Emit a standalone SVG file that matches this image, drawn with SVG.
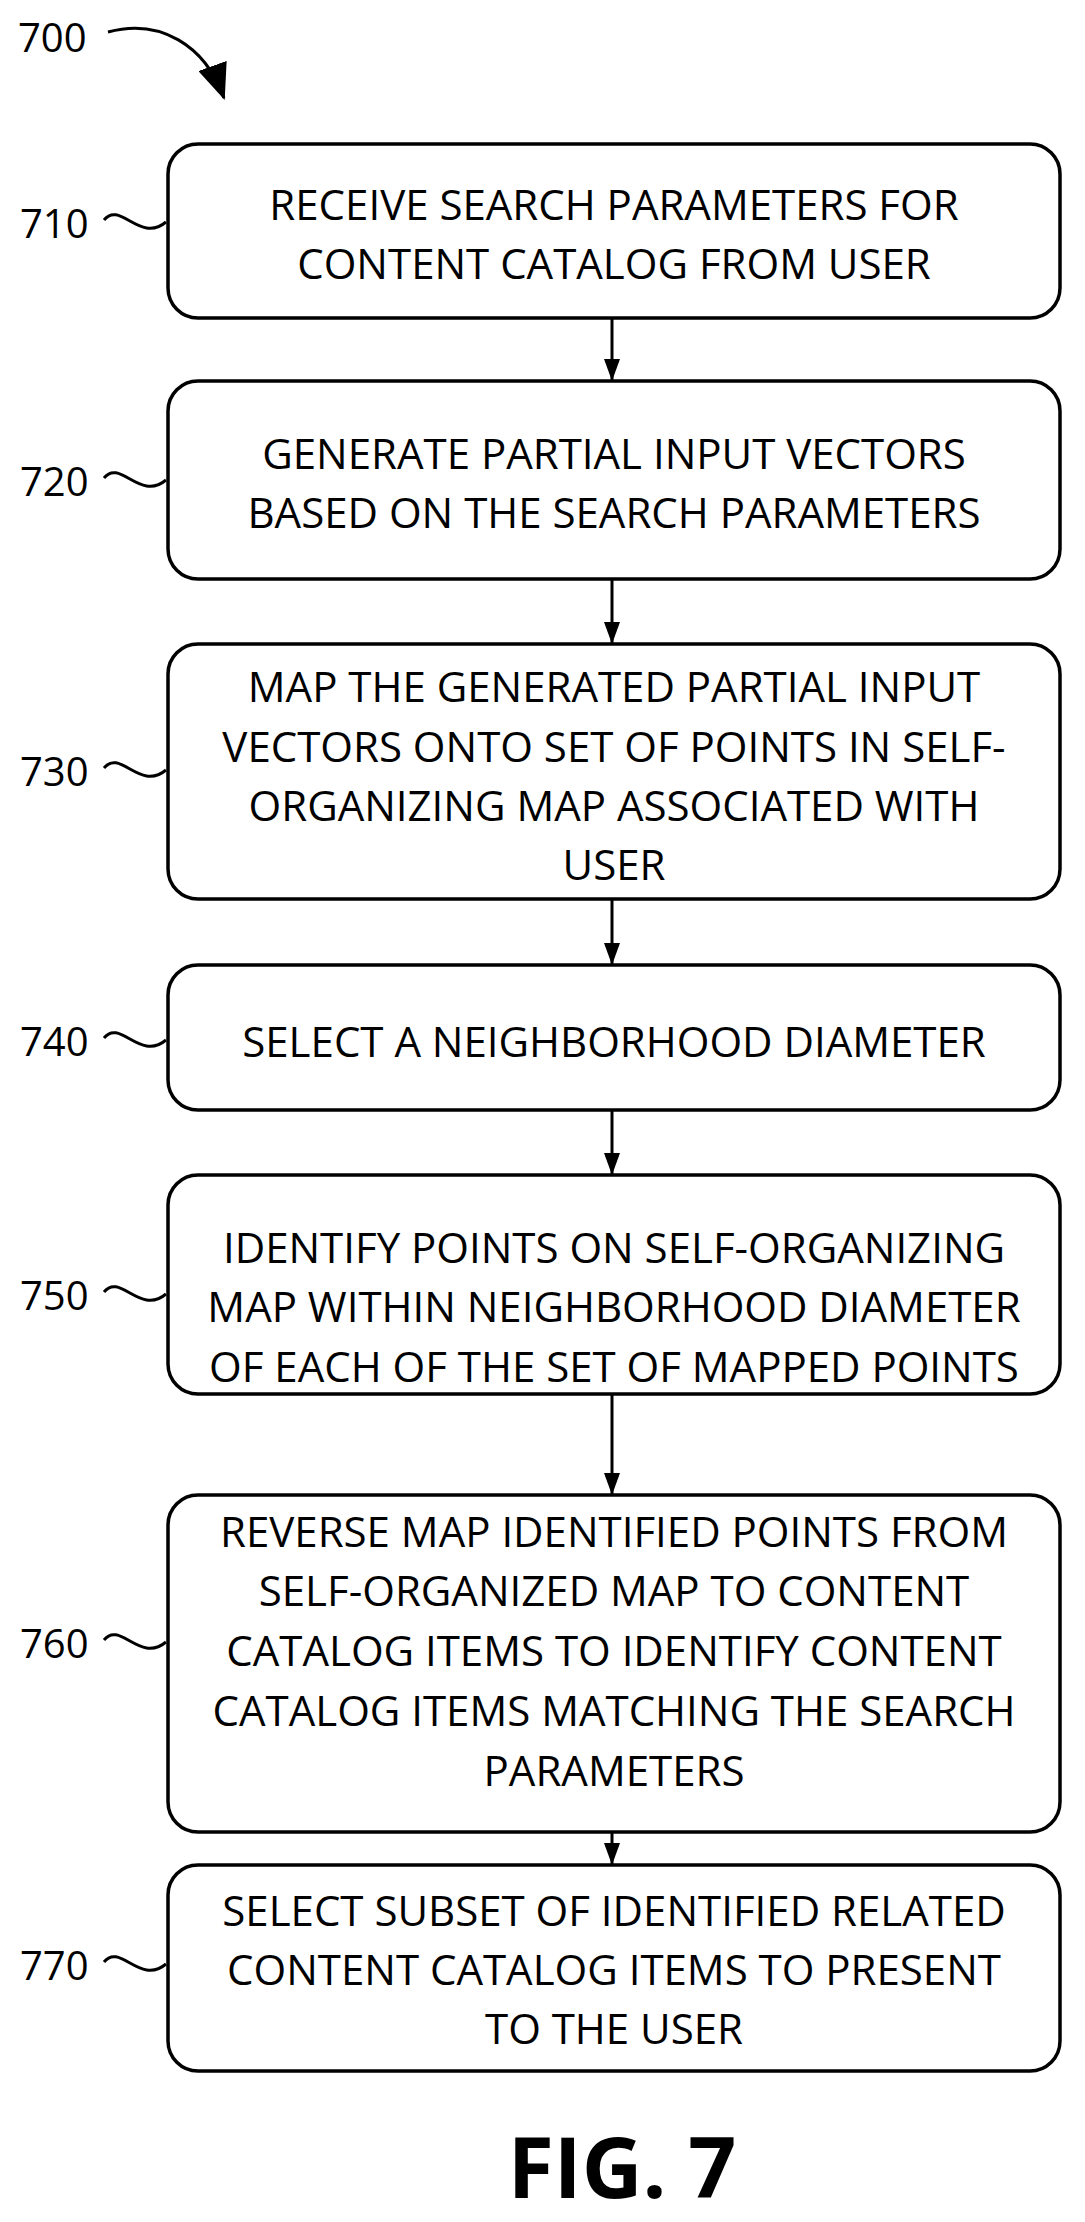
<svg xmlns="http://www.w3.org/2000/svg" width="1085" height="2222" viewBox="0 0 1085 2222">
<style>
.b{fill:#fff;stroke:#000;stroke-width:3.5}
.t{font-family:"Open Sans","Liberation Sans",sans-serif;font-size:42px;text-anchor:middle;dominant-baseline:central;fill:#000}
.l{font-family:"Open Sans","Liberation Sans",sans-serif;font-size:40px;dominant-baseline:central;fill:#000}
.c{fill:none;stroke:#000;stroke-width:3}
</style>
<defs><marker id="a" markerWidth="22" markerHeight="16" refX="21" refY="8" orient="auto" markerUnits="userSpaceOnUse" viewBox="0 0 22 16"><path d="M0,0 L22,8 L0,16 Z" fill="#000"/></marker>
<marker id="a2" markerWidth="36" markerHeight="30" refX="34" refY="15" orient="auto" markerUnits="userSpaceOnUse" viewBox="0 0 36 30"><path d="M0,0 L36,15 L0,30 Z" fill="#000"/></marker></defs>
<g id="label700"><text class="l" x="18" y="36">700</text><path class="c" d="M108,32 C160,18 205,45 224,98" marker-end="url(#a2)"/></g>
<g id="n710"><rect class="b" x="168" y="144" width="892" height="174" rx="30"/><text class="t" x="614" y="203">RECEIVE SEARCH PARAMETERS FOR</text><text class="t" x="614" y="262">CONTENT CATALOG FROM USER</text><text class="l" x="20" y="222">710</text><path class="c" d="M104,220 C120,200 140,244 166,222"/></g>
<g id="n720"><rect class="b" x="168" y="381" width="892" height="198" rx="30"/><text class="t" x="614" y="452">GENERATE PARTIAL INPUT VECTORS</text><text class="t" x="614" y="511">BASED ON THE SEARCH PARAMETERS</text><text class="l" x="20" y="480">720</text><path class="c" d="M104,478 C120,458 140,502 166,480"/></g>
<g id="n730"><rect class="b" x="168" y="644" width="892" height="255" rx="30"/><text class="t" x="614" y="685">MAP THE GENERATED PARTIAL INPUT</text><text class="t" x="614" y="745">VECTORS ONTO SET OF POINTS IN SELF-</text><text class="t" x="614" y="804">ORGANIZING MAP ASSOCIATED WITH</text><text class="t" x="614" y="863">USER</text><text class="l" x="20" y="770">730</text><path class="c" d="M104,768 C120,748 140,792 166,770"/></g>
<g id="n740"><rect class="b" x="168" y="965" width="892" height="145" rx="30"/><text class="t" x="614" y="1040">SELECT A NEIGHBORHOOD DIAMETER</text><text class="l" x="20" y="1040">740</text><path class="c" d="M104,1038 C120,1018 140,1062 166,1040"/></g>
<g id="n750"><rect class="b" x="168" y="1175" width="892" height="219" rx="30"/><text class="t" x="614" y="1246">IDENTIFY POINTS ON SELF-ORGANIZING</text><text class="t" x="614" y="1305">MAP WITHIN NEIGHBORHOOD DIAMETER</text><text class="t" x="614" y="1365">OF EACH OF THE SET OF MAPPED POINTS</text><text class="l" x="20" y="1294">750</text><path class="c" d="M104,1292 C120,1272 140,1316 166,1294"/></g>
<g id="n760"><rect class="b" x="168" y="1495" width="892" height="337" rx="30"/><text class="t" x="614" y="1530">REVERSE MAP IDENTIFIED POINTS FROM</text><text class="t" x="614" y="1589">SELF-ORGANIZED MAP TO CONTENT</text><text class="t" x="614" y="1649">CATALOG ITEMS TO IDENTIFY CONTENT</text><text class="t" x="614" y="1709">CATALOG ITEMS MATCHING THE SEARCH</text><text class="t" x="614" y="1769">PARAMETERS</text><text class="l" x="20" y="1642">760</text><path class="c" d="M104,1640 C120,1620 140,1664 166,1642"/></g>
<g id="n770"><rect class="b" x="168" y="1865" width="892" height="206" rx="30"/><text class="t" x="614" y="1909">SELECT SUBSET OF IDENTIFIED RELATED</text><text class="t" x="614" y="1968">CONTENT CATALOG ITEMS TO PRESENT</text><text class="t" x="614" y="2027">TO THE USER</text><text class="l" x="20" y="1964">770</text><path class="c" d="M104,1962 C120,1942 140,1986 166,1964"/></g>
<g id="connectors">
<line class="c" x1="612" y1="318" x2="612" y2="380" marker-end="url(#a)"/>
<line class="c" x1="612" y1="579" x2="612" y2="643" marker-end="url(#a)"/>
<line class="c" x1="612" y1="899" x2="612" y2="964" marker-end="url(#a)"/>
<line class="c" x1="612" y1="1110" x2="612" y2="1174" marker-end="url(#a)"/>
<line class="c" x1="612" y1="1394" x2="612" y2="1494" marker-end="url(#a)"/>
<line class="c" x1="612" y1="1832" x2="612" y2="1864" marker-end="url(#a)"/>
</g>
<text x="622" y="2165" style="font-family:'Open Sans','Liberation Sans',sans-serif;font-size:84px;font-weight:bold;text-anchor:middle;dominant-baseline:central">FIG. 7</text>
</svg>
